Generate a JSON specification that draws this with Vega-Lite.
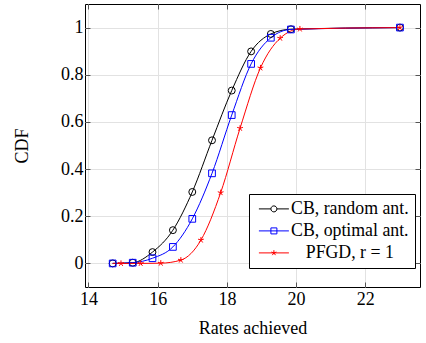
{
  "$schema": "https://vega.github.io/schema/vega-lite/v6.json",
  "width": 335,
  "height": 283,
  "autosize": {"type": "none"},
  "padding": {"left": 85, "top": 4, "right": 6, "bottom": 56},
  "background": "white",
  "config": {
    "view": {"stroke": "black", "strokeWidth": 1},
    "font": "Liberation Serif",
    "axis": {
      "labelFont": "Liberation Serif",
      "titleFont": "Liberation Serif",
      "labelFontSize": 18,
      "titleFontSize": 18,
      "titleFontWeight": "normal",
      "labelColor": "black",
      "titleColor": "black",
      "gridColor": "#e2e2e2",
      "gridWidth": 1,
      "domain": false,
      "tickColor": "#555555",
      "tickSize": -5,
      "tickWidth": 1
    },
    "legend": {
      "fillColor": "white",
      "strokeColor": "black",
      "padding": 6,
      "labelFont": "Liberation Serif",
      "labelFontSize": 17.8,
      "labelColor": "black",
      "labelAlign": "center",
      "labelOffset": 77,
      "labelLimit": 400,
      "symbolSize": 100,
      "symbolStrokeWidth": 1,
      "symbolOpacity": 1,
      "symbolFillColor": "transparent",
      "rowPadding": 3
    }
  },
  "datasets": {
    "lines": [
      {"s": "CB, random ant.", "rate": 14.70, "cdf": 0},
      {"s": "CB, random ant.", "rate": 15.28, "cdf": 0.003},
      {"s": "CB, random ant.", "rate": 15.85, "cdf": 0.048},
      {"s": "CB, random ant.", "rate": 16.44, "cdf": 0.141},
      {"s": "CB, random ant.", "rate": 17.00, "cdf": 0.303},
      {"s": "CB, random ant.", "rate": 17.57, "cdf": 0.522},
      {"s": "CB, random ant.", "rate": 18.14, "cdf": 0.733},
      {"s": "CB, random ant.", "rate": 18.70, "cdf": 0.899},
      {"s": "CB, random ant.", "rate": 19.27, "cdf": 0.973},
      {"s": "CB, random ant.", "rate": 19.85, "cdf": 0.993},
      {"s": "CB, random ant.", "rate": 23.00, "cdf": 1.0},
      {"s": "CB, optimal ant.", "rate": 14.70, "cdf": 0},
      {"s": "CB, optimal ant.", "rate": 15.28, "cdf": 0.003},
      {"s": "CB, optimal ant.", "rate": 15.85, "cdf": 0.022},
      {"s": "CB, optimal ant.", "rate": 16.44, "cdf": 0.070},
      {"s": "CB, optimal ant.", "rate": 17.00, "cdf": 0.189},
      {"s": "CB, optimal ant.", "rate": 17.57, "cdf": 0.382},
      {"s": "CB, optimal ant.", "rate": 18.14, "cdf": 0.629},
      {"s": "CB, optimal ant.", "rate": 18.70, "cdf": 0.846},
      {"s": "CB, optimal ant.", "rate": 19.27, "cdf": 0.957},
      {"s": "CB, optimal ant.", "rate": 19.85, "cdf": 0.992},
      {"s": "CB, optimal ant.", "rate": 23.00, "cdf": 1.0},
      {"s": "PFGD, r = 1", "rate": 14.70, "cdf": 0},
      {"s": "PFGD, r = 1", "rate": 14.94, "cdf": 0},
      {"s": "PFGD, r = 1", "rate": 15.51, "cdf": 0},
      {"s": "PFGD, r = 1", "rate": 16.09, "cdf": 0.001},
      {"s": "PFGD, r = 1", "rate": 16.67, "cdf": 0.014},
      {"s": "PFGD, r = 1", "rate": 17.25, "cdf": 0.099},
      {"s": "PFGD, r = 1", "rate": 17.82, "cdf": 0.300},
      {"s": "PFGD, r = 1", "rate": 18.38, "cdf": 0.573},
      {"s": "PFGD, r = 1", "rate": 18.97, "cdf": 0.829},
      {"s": "PFGD, r = 1", "rate": 19.54, "cdf": 0.955},
      {"s": "PFGD, r = 1", "rate": 20.11, "cdf": 0.994},
      {"s": "PFGD, r = 1", "rate": 23.00, "cdf": 1.0}
    ],
    "points": [
      {"s": "CB, random ant.", "rate": 14.70, "cdf": 0},
      {"s": "CB, random ant.", "rate": 15.28, "cdf": 0.003},
      {"s": "CB, random ant.", "rate": 15.85, "cdf": 0.048},
      {"s": "CB, random ant.", "rate": 16.44, "cdf": 0.141},
      {"s": "CB, random ant.", "rate": 17.00, "cdf": 0.303},
      {"s": "CB, random ant.", "rate": 17.57, "cdf": 0.522},
      {"s": "CB, random ant.", "rate": 18.14, "cdf": 0.733},
      {"s": "CB, random ant.", "rate": 18.70, "cdf": 0.899},
      {"s": "CB, random ant.", "rate": 19.27, "cdf": 0.973},
      {"s": "CB, random ant.", "rate": 19.85, "cdf": 0.993},
      {"s": "CB, random ant.", "rate": 23.00, "cdf": 1.0},
      {"s": "CB, optimal ant.", "rate": 14.70, "cdf": 0},
      {"s": "CB, optimal ant.", "rate": 15.28, "cdf": 0.003},
      {"s": "CB, optimal ant.", "rate": 15.85, "cdf": 0.022},
      {"s": "CB, optimal ant.", "rate": 16.44, "cdf": 0.070},
      {"s": "CB, optimal ant.", "rate": 17.00, "cdf": 0.189},
      {"s": "CB, optimal ant.", "rate": 17.57, "cdf": 0.382},
      {"s": "CB, optimal ant.", "rate": 18.14, "cdf": 0.629},
      {"s": "CB, optimal ant.", "rate": 18.70, "cdf": 0.846},
      {"s": "CB, optimal ant.", "rate": 19.27, "cdf": 0.957},
      {"s": "CB, optimal ant.", "rate": 19.85, "cdf": 0.992},
      {"s": "CB, optimal ant.", "rate": 23.00, "cdf": 1.0},
      {"s": "PFGD, r = 1", "rate": 14.94, "cdf": 0},
      {"s": "PFGD, r = 1", "rate": 15.51, "cdf": 0},
      {"s": "PFGD, r = 1", "rate": 16.09, "cdf": 0.001},
      {"s": "PFGD, r = 1", "rate": 16.67, "cdf": 0.014},
      {"s": "PFGD, r = 1", "rate": 17.25, "cdf": 0.099},
      {"s": "PFGD, r = 1", "rate": 17.82, "cdf": 0.300},
      {"s": "PFGD, r = 1", "rate": 18.38, "cdf": 0.573},
      {"s": "PFGD, r = 1", "rate": 18.97, "cdf": 0.829},
      {"s": "PFGD, r = 1", "rate": 19.54, "cdf": 0.955},
      {"s": "PFGD, r = 1", "rate": 20.11, "cdf": 0.994},
      {"s": "PFGD, r = 1", "rate": 23.00, "cdf": 1.0}
    ]
  },
  "layer": [
    {
      "data": {"name": "points"},
      "mark": {"type": "point", "filled": false, "size": 100, "strokeWidth": 1, "opacity": 0},
      "encoding": {
        "x": {"field": "rate", "type": "quantitative", "scale": {"domain": [13.9, 23.58], "nice": false, "zero": false}, "axis": null},
        "y": {"field": "cdf", "type": "quantitative", "scale": {"domain": [-0.1, 1.1], "nice": false, "zero": false}, "axis": null},
        "color": {
          "field": "s", "type": "nominal",
          "scale": {"domain": ["CB, random ant.", "CB, optimal ant.", "PFGD, r = 1"], "range": ["#000000", "#0000ff", "#ff0000"]},
          "legend": {"orient": "none", "legendX": 164, "legendY": 190, "title": null}
        },
        "shape": {
          "field": "s", "type": "nominal",
          "scale": {"domain": ["CB, random ant.", "CB, optimal ant.", "PFGD, r = 1"], "range": ["M-1,0H1.4M2.6,0H5M2.6,0A0.6,0.6 0 1 1 1.4,0A0.6,0.6 0 1 1 2.6,0", "M-1,0H5M1.4,-0.6H2.6V0.6H1.4Z", "M-1,0H5M2,0V-0.55M2,0L2.52,-0.17M2,0L2.32,0.445M2,0L1.68,0.445M2,0L1.48,-0.17"]},
          "legend": {"orient": "none", "legendX": 164, "legendY": 190, "title": null}
        }
      }
    },
    {
      "data": {"name": "lines"},
      "mark": {"type": "line", "interpolate": "monotone", "strokeWidth": 1},
      "encoding": {
        "x": {
          "field": "rate", "type": "quantitative",
          "axis": {"orient": "bottom", "values": [14, 16, 18, 20, 22], "title": "Rates achieved", "grid": true, "labelPadding": 8, "titlePadding": 11}
        },
        "y": {
          "field": "cdf", "type": "quantitative",
          "axis": {"orient": "left", "values": [0, 0.2, 0.4, 0.6, 0.8, 1], "format": "~g", "title": "CDF", "grid": true, "labelPadding": 7, "titlePadding": 29}
        },
        "color": {"field": "s", "type": "nominal", "legend": {"orient": "none", "legendX": 164, "legendY": 190, "title": null}}
      }
    },
    {
      "data": {"name": "points"},
      "transform": [{"filter": {"field": "s", "equal": "CB, random ant."}}],
      "mark": {"type": "point", "shape": "circle", "filled": false, "size": 48, "strokeWidth": 1, "opacity": 1},
      "encoding": {
        "x": {
          "field": "rate", "type": "quantitative",
          "axis": {"orient": "top", "values": [14, 16, 18, 20, 22], "labels": false, "grid": false, "title": null}
        },
        "y": {
          "field": "cdf", "type": "quantitative",
          "axis": {"orient": "right", "values": [0, 0.2, 0.4, 0.6, 0.8, 1], "labels": false, "grid": false, "title": null}
        },
        "color": {"field": "s", "type": "nominal", "legend": {"orient": "none", "legendX": 164, "legendY": 190, "title": null}}
      }
    },
    {
      "data": {"name": "points"},
      "transform": [{"filter": {"field": "s", "equal": "CB, optimal ant."}}],
      "mark": {"type": "point", "shape": "square", "filled": false, "size": 45, "strokeWidth": 1, "opacity": 1},
      "encoding": {
        "x": {"field": "rate", "type": "quantitative", "axis": null},
        "y": {"field": "cdf", "type": "quantitative", "axis": null},
        "color": {"field": "s", "type": "nominal", "legend": {"orient": "none", "legendX": 164, "legendY": 190, "title": null}}
      }
    },
    {
      "data": {"name": "points"},
      "transform": [{"filter": {"field": "s", "equal": "PFGD, r = 1"}}],
      "mark": {"type": "point", "shape": "M0,0V-0.9M0,0L0.856,-0.278M0,0L0.529,0.728M0,0L-0.529,0.728M0,0L-0.856,-0.278", "filled": false, "size": 45, "strokeWidth": 1, "opacity": 1},
      "encoding": {
        "x": {"field": "rate", "type": "quantitative", "axis": null},
        "y": {"field": "cdf", "type": "quantitative", "axis": null},
        "color": {"field": "s", "type": "nominal", "legend": {"orient": "none", "legendX": 164, "legendY": 190, "title": null}}
      }
    }
  ],
  "resolve": {"axis": {"x": "independent", "y": "independent"}}
}
